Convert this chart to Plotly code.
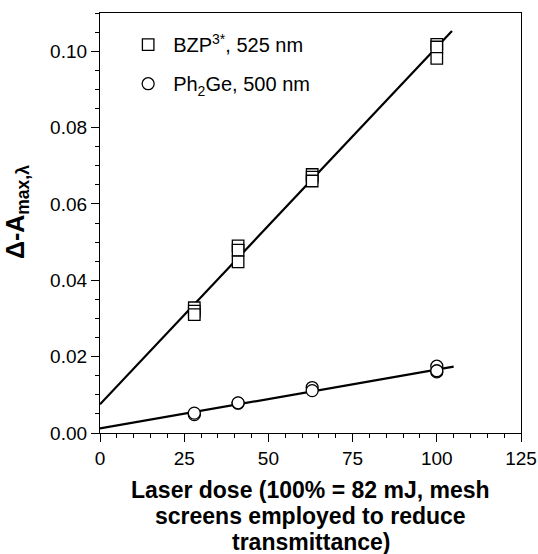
import plotly.graph_objects as go

# ---- data ----
dose_bzp = [28, 28, 28, 41, 41, 41, 63, 63, 63, 100, 100, 100]
dA_bzp = [0.0328, 0.0319, 0.0310, 0.0490, 0.0479, 0.0448,
          0.0677, 0.0670, 0.0660, 0.1018, 0.1011, 0.0981]

dose_ge = [28, 28, 41, 41, 63, 63, 100, 100, 100]
dA_ge = [0.0048, 0.0052, 0.0078, 0.0079, 0.0119, 0.0111, 0.0175, 0.0160, 0.0163]

# linear fits (intercept, slope) and their x extent
fit_bzp = (0.0075, 0.000936)
fit_ge = (0.0012, 0.000154)
fit_x_bzp = [0, 104.5]
fit_x_ge = [0, 105]

x_ticks = [0, 25, 50, 75, 100, 125]
y_ticks = [0.00, 0.02, 0.04, 0.06, 0.08, 0.10]

FONT = "Liberation Sans, Arial, sans-serif"

fig = go.Figure()

# fit lines
for fx, (b, m) in [(fit_x_bzp, fit_bzp), (fit_x_ge, fit_ge)]:
    fig.add_trace(go.Scatter(x=fx, y=[b + m * v for v in fx], mode="lines",
                             line=dict(color="black", width=2.2),
                             showlegend=False, hoverinfo="skip"))

fig.add_trace(go.Scatter(
    x=dose_bzp, y=dA_bzp, mode="markers", name="BZP<sup>3*</sup>, 525 nm",
    legendgroup="a",
    marker=dict(symbol="square", size=11.5, color="white",
                line=dict(color="black", width=1.3))))
fig.add_trace(go.Scatter(
    x=dose_ge, y=dA_ge, mode="markers", name="Ph<sub>2</sub>Ge, 500 nm",
    legendgroup="b",
    marker=dict(symbol="circle", size=12, color="white",
                line=dict(color="black", width=1.3))))

axis_common = dict(
    showline=True, linecolor="black", linewidth=1.3, mirror=True,
    ticks="outside", ticklen=8, tickwidth=1.2, tickcolor="black",
    showgrid=False, zeroline=False, automargin=False,
    tickfont=dict(family=FONT, size=19, color="black"),
)

fig.update_xaxes(range=[0, 125], tickvals=x_ticks,
                 ticktext=[str(v) for v in x_ticks],
                 minor=dict(dtick=5, ticklen=4, tickwidth=1.2,
                            tickcolor="black", ticks="outside"),
                 **axis_common)
fig.update_yaxes(range=[0, 0.11], tickvals=y_ticks,
                 ticktext=[f"{v:.2f}" for v in y_ticks],
                 minor=dict(dtick=0.005, ticklen=4, tickwidth=1.2,
                            tickcolor="black", ticks="outside"),
                 **axis_common)

# x title as three lines
xt_lines = ["Laser dose (100% = 82 mJ, mesh",
            "screens employed to reduce",
            "transmittance)"]
for i, t in enumerate(xt_lines):
    fig.add_annotation(text=f"<b>{t}</b>", xref="paper", yref="paper",
                       x=0.5, y=0, xanchor="center", yanchor="middle",
                       yshift=-57 - 26 * i, showarrow=False,
                       font=dict(family=FONT, size=23, color="black"))

# y title
fig.add_annotation(text="<b>Δ-A<sub>max,λ</sub></b>", xref="paper", yref="paper",
                   x=0, y=0.526, xshift=-83, xanchor="center", yanchor="middle",
                   textangle=-90, showarrow=False,
                   font=dict(family=FONT, size=25, color="black"))

fig.update_layout(
    width=538, height=554,
    margin=dict(l=100, r=17, t=13, b=121),
    paper_bgcolor="white", plot_bgcolor="white",
    showlegend=True,
    legend=dict(x=0.055, y=0.971, xanchor="left", yanchor="top",
                bgcolor="rgba(0,0,0,0)", tracegroupgap=10, itemwidth=40,
                font=dict(family=FONT, size=20, color="black")),
)

fig.write_html("out.html", config={"displayModeBar": False},
               post_script="document.body.style.margin='0px';document.body.style.padding='0px';")
